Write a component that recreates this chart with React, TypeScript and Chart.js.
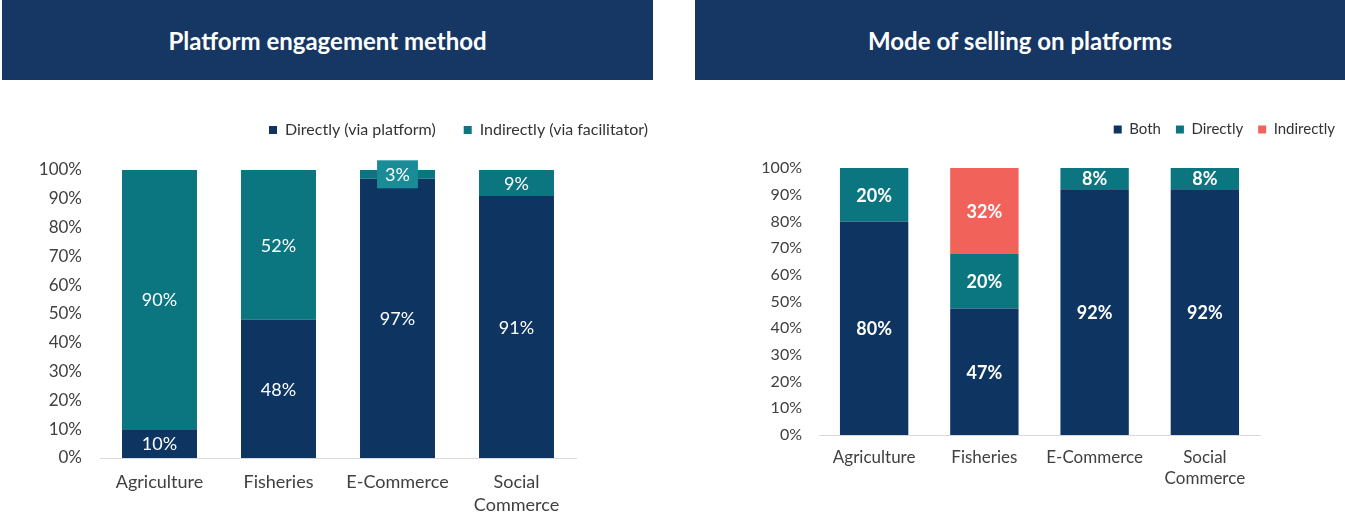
import React, { useEffect, useRef } from "react";
import { Chart, registerables } from "chart.js";

Chart.register(...registerables);

const categories: (string | string[])[] = ["Agriculture", "Fisheries", "E-Commerce", ["Social", "Commerce"]];

const engagementTitle = "Platform engagement method";
const engDirectLabel = "Directly (via platform)";
const engIndirectLabel = "Indirectly (via facilitator)";
const engDirect = [10, 48, 97, 91];
const engIndirect = [90, 52, 3, 9];

const sellingTitle = "Mode of selling on platforms";
const sellBothLabel = "Both";
const sellDirectLabel = "Directly";
const sellIndirectLabel = "Indirectly";
const sellBoth = [80, 47.4, 92, 92];
const sellDirect = [20, 20.4, 8, 8];
const sellIndirect = [0, 32.2, 0, 0];

const yTicks = [0, 10, 20, 30, 40, 50, 60, 70, 80, 90, 100];

const NAVY = "#0E3461";
const TEAL = "#0B7580";
const RED = "#F0625A";
const HEADER = "#163763";
const FONT = "Lato, 'Open Sans', sans-serif";

type PanelCfg = {
  width: number;
  height: number;
  padTop: number;
  legendHeight: number;
  legendPadding: number;
  legendFont: number;
  yWidth: number;
  rightWidth: number;
  xHeight: number;
  xPadding: number;
  xFont: number;
  yFont: number;
  yPadding: number;
  labelFont: number;
  labelWeight: string;
  barPct: number;
};

function makeLabelPlugin(cfg: PanelCfg) {
  return {
    id: "segLabels",
    afterDatasetsDraw(chart: any) {
      const ctx = chart.ctx;
      ctx.save();
      ctx.font = `${cfg.labelWeight} ${cfg.labelFont}px ${FONT}`;
      ctx.textAlign = "center";
      ctx.textBaseline = "middle";
      chart.data.datasets.forEach((ds: any, di: number) => {
        const meta = chart.getDatasetMeta(di);
        meta.data.forEach((el: any, i: number) => {
          const v = ds.data[i];
          if (!v) return;
          const props = el.getProps(["x", "y", "base"], true);
          const cy = (props.y + props.base) / 2;
          const h = Math.abs(props.base - props.y);
          const text = `${Math.round(v)}%`;
          if (h < 16) {
            const w = ctx.measureText(text).width + 16;
            ctx.fillStyle = "#1A8C98";
            ctx.fillRect(props.x - w / 2, cy - 14, w, 28);
          }
          ctx.fillStyle = "#FFFFFF";
          ctx.fillText(text, props.x, cy + 1);
        });
      });
      ctx.restore();
    },
  };
}

function makeLegendPlugin(cfg: PanelCfg) {
  return {
    id: "legendHeight",
    beforeInit(chart: any) {
      const legend = chart.legend;
      if (!legend) return;
      const orig = legend.fit;
      legend.fit = function () {
        orig.call(this);
        this.height = cfg.legendHeight;
      };
    },
  };
}

function Panel({ cfg, datasets }: { cfg: PanelCfg; datasets: any[] }) {
  const ref = useRef<HTMLCanvasElement>(null);
  useEffect(() => {
    if (!ref.current) return;
    const chart = new Chart(ref.current, {
      type: "bar",
      data: { labels: categories as any, datasets },
      options: {
        responsive: false,
        maintainAspectRatio: false,
        animation: false,
        devicePixelRatio: 1,
        layout: { padding: { top: cfg.padTop, left: 0, right: 0, bottom: 0 } },
        plugins: {
          tooltip: { enabled: false },
          legend: {
            position: "top",
            align: "end",
            labels: {
              boxWidth: 8,
              boxHeight: 8,
              padding: cfg.legendPadding,
              color: "#333333",
              font: { family: FONT, size: cfg.legendFont },
            },
          },
        },
        scales: {
          x: {
            stacked: true,
            grid: { display: false, drawTicks: false },
            border: { display: true, color: "#D9D9D9", width: 1 },
            ticks: {
              color: "#404040",
              padding: cfg.xPadding,
              maxRotation: 0,
              autoSkip: false,
              font: { family: FONT, size: cfg.xFont, lineHeight: 1.25 },
            },
            afterFit: (s: any) => {
              s.height = cfg.xHeight;
            },
          },
          y: {
            stacked: true,
            min: 0,
            max: 100,
            grid: { display: false, drawTicks: false },
            border: { display: false },
            afterBuildTicks: (s: any) => {
              s.ticks = yTicks.map((v) => ({ value: v }));
            },
            ticks: {
              color: "#404040",
              padding: cfg.yPadding,
              font: { family: FONT, size: cfg.yFont },
              callback: (v: any) => `${v}%`,
            },
            afterFit: (s: any) => {
              s.width = cfg.yWidth;
            },
          },
          pad: {
            type: "linear",
            position: "right",
            display: true,
            grid: { display: false, drawTicks: false },
            border: { display: false },
            ticks: { display: false },
            afterFit: (s: any) => {
              s.width = cfg.rightWidth;
            },
          },
        },
      } as any,
      plugins: [makeLegendPlugin(cfg), makeLabelPlugin(cfg)],
    });
    return () => chart.destroy();
  }, []);
  return <canvas ref={ref} width={cfg.width} height={cfg.height} style={{ width: cfg.width, height: cfg.height, display: "block" }} />;
}

const leftCfg: PanelCfg = {
  width: 676,
  height: 430,
  padTop: 10,
  legendHeight: 76,
  legendPadding: 28,
  legendFont: 16,
  yWidth: 100,
  rightWidth: 100,
  xHeight: 56,
  xPadding: 13,
  xFont: 18,
  yFont: 17,
  yPadding: 18,
  labelFont: 18,
  labelWeight: "normal",
  barPct: 0.63,
};

const rightCfg: PanelCfg = {
  width: 660,
  height: 430,
  padTop: 23,
  legendHeight: 61,
  legendPadding: 15,
  legendFont: 15,
  yWidth: 129,
  rightWidth: 90,
  xHeight: 79,
  xPadding: 12,
  xFont: 17,
  yFont: 16,
  yPadding: 17,
  labelFont: 18,
  labelWeight: "bold",
  barPct: 0.62,
};

const leftDatasets = [
  { label: engDirectLabel, data: engDirect, backgroundColor: NAVY, categoryPercentage: 1, barPercentage: leftCfg.barPct },
  { label: engIndirectLabel, data: engIndirect, backgroundColor: TEAL, categoryPercentage: 1, barPercentage: leftCfg.barPct },
];

const rightDatasets = [
  { label: sellBothLabel, data: sellBoth, backgroundColor: NAVY, categoryPercentage: 1, barPercentage: rightCfg.barPct },
  { label: sellDirectLabel, data: sellDirect, backgroundColor: TEAL, categoryPercentage: 1, barPercentage: rightCfg.barPct },
  { label: sellIndirectLabel, data: sellIndirect, backgroundColor: RED, categoryPercentage: 1, barPercentage: rightCfg.barPct },
];

function Header({ left, width, text }: { left: number; width: number; text: string }) {
  return (
    <div
      style={{
        position: "absolute",
        left,
        top: 0,
        width,
        height: 80,
        background: HEADER,
        color: "#FFFFFF",
        fontFamily: FONT,
        fontWeight: 700,
        fontSize: 24,
        display: "flex",
        alignItems: "center",
        justifyContent: "center",
      }}
    >
      {text}
    </div>
  );
}

export default function App() {
  return (
    <div style={{ position: "fixed", left: 0, top: 0, width: 1345, height: 514, overflow: "hidden", background: "#FFFFFF" }}>
      <Header left={2} width={651} text={engagementTitle} />
      <Header left={695} width={650} text={sellingTitle} />
      <div style={{ position: "absolute", left: 0, top: 84 }}>
        <Panel cfg={leftCfg} datasets={leftDatasets} />
      </div>
      <div style={{ position: "absolute", left: 690, top: 84 }}>
        <Panel cfg={rightCfg} datasets={rightDatasets} />
      </div>
    </div>
  );
}
